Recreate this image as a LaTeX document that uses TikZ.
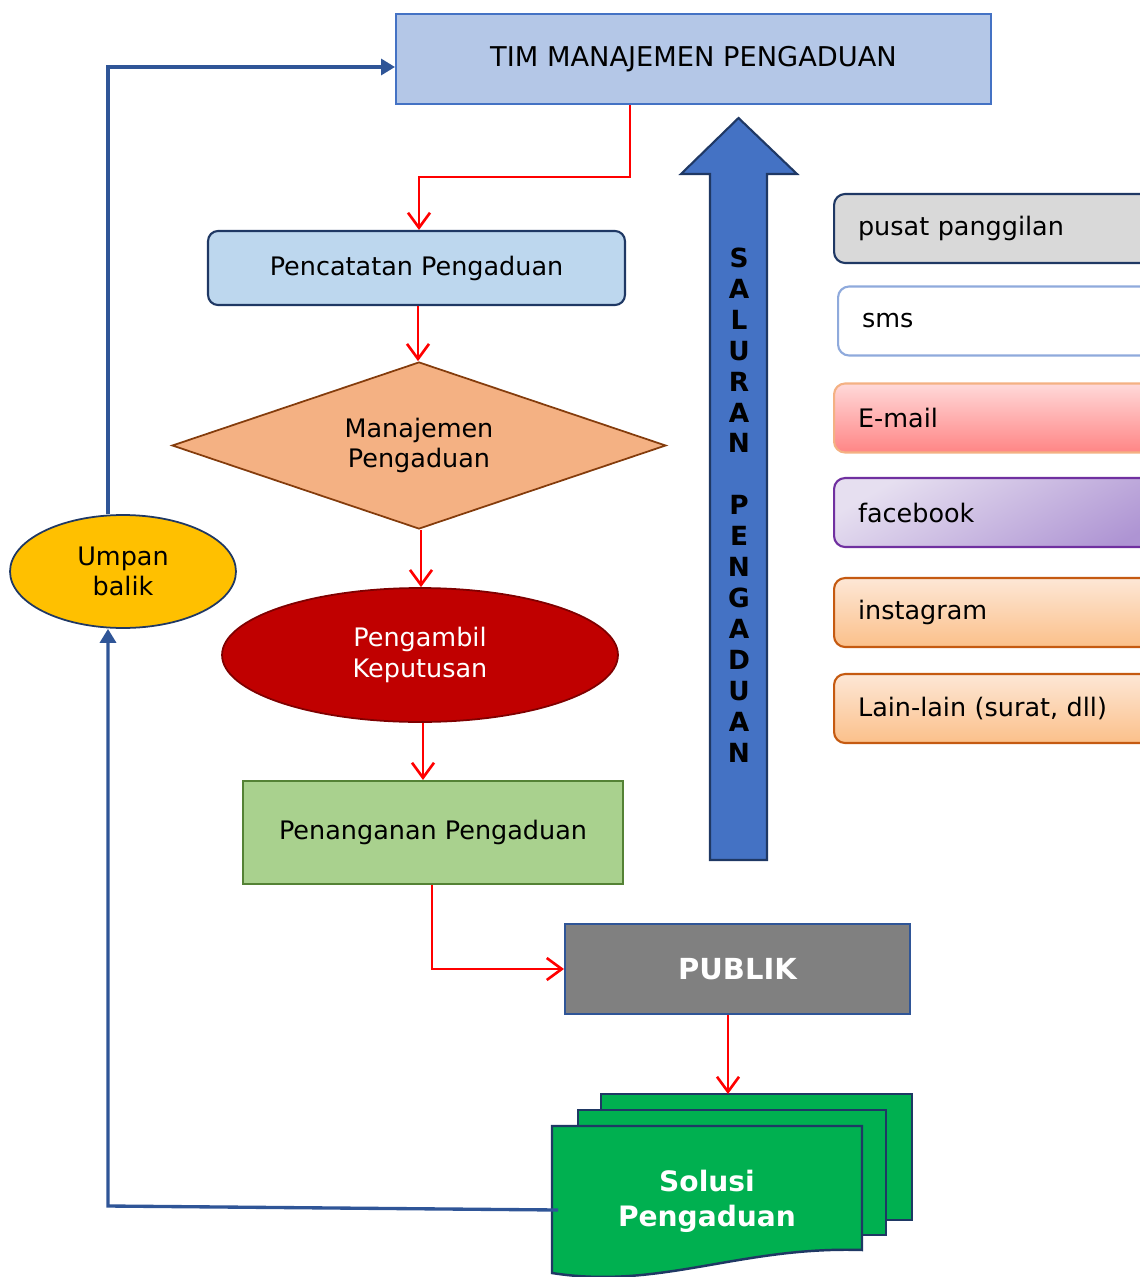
\documentclass[tikz,border=0pt]{standalone}
\usepackage{fontspec}
\setmainfont{DejaVu Sans}
\usetikzlibrary{arrows.meta,shapes.geometric}

\definecolor{timfill}{HTML}{B4C7E7}
\definecolor{timdraw}{HTML}{4472C4}
\definecolor{navy}{HTML}{1F3864}
\definecolor{catatfill}{HTML}{BDD7EE}
\definecolor{manajfill}{HTML}{F4B183}
\definecolor{manajdraw}{HTML}{843C0C}
\definecolor{ambilfill}{HTML}{C00000}
\definecolor{ambildraw}{HTML}{7F0000}
\definecolor{tanganfill}{HTML}{A9D18E}
\definecolor{tangandraw}{HTML}{548235}
\definecolor{publikdraw}{HTML}{2F5597}
\definecolor{solusifill}{HTML}{00B050}
\definecolor{umpanfill}{HTML}{FFC000}
\definecolor{blueline}{HTML}{2F5597}
\definecolor{smsdraw}{HTML}{8FAADC}
\definecolor{pusatfill}{HTML}{D9D9D9}
\definecolor{mailtop}{HTML}{FFD9D9}
\definecolor{mailbot}{HTML}{FF8585}
\definecolor{fbtop}{HTML}{E6DFF0}
\definecolor{fbbot}{HTML}{AE94D3}
\definecolor{fbdraw}{HTML}{7030A0}
\definecolor{igtop}{HTML}{FDE7D6}
\definecolor{igbot}{HTML}{FBC08A}
\definecolor{igdraw}{HTML}{C55A11}

\begin{document}
\begin{tikzpicture}[x = 0.02cm, y = -0.02cm,
  every node/.style = {font = \fontsize{14.5}{17.5}\selectfont},
  flow/.style = {draw = red, line width = 1.5pt, -{Straight Barb[length = 3mm, width = 4.4mm]}},
  back/.style = {draw = blueline, line width = 1.9pt, -{Triangle[length = 2.8mm, width = 3.2mm]}},
  channel/.style = {rounded corners = 0.22cm, line width = 1.2pt, minimum height = 1.38cm, text width = 5.9cm, align = left, inner xsep = 0.48cm, anchor = west}]
\useasboundingbox (0,0) rectangle (1139,1277);

% main flow
\node[draw = timdraw, fill = timfill, line width = 1.2pt, minimum width = 11.9cm, minimum height = 1.8cm, font = \fontsize{15.5}{18}\selectfont] (tim) at (693.5,59) {TIM MANAJEMEN PENGADUAN};
\node[draw = navy, fill = catatfill, rounded corners = 0.2cm, line width = 1.2pt, minimum width = 8.34cm, minimum height = 1.48cm] (catat) at (416.5,268) {Pencatatan Pengaduan};
\node[diamond, draw = manajdraw, fill = manajfill, line width = 1pt, aspect = 2.96, inner sep = 0pt, minimum width = 9.88cm, minimum height = 3.34cm, align = center] (manaj) at (419,445.5) {Manajemen\\Pengaduan};
\node[ellipse, draw = ambildraw, fill = ambilfill, text = white, line width = 1pt, minimum width = 7.92cm, minimum height = 2.68cm, align = center] (ambil) at (420,655) {Pengambil\\Keputusan};
\node[draw = tangandraw, fill = tanganfill, line width = 1.2pt, minimum width = 7.6cm, minimum height = 2.06cm] (tangan) at (433,832.5) {Penanganan Pengaduan};
\node[draw = publikdraw, fill = gray, text = white, line width = 1.2pt, minimum width = 6.9cm, minimum height = 1.8cm, font = \fontsize{16.5}{19}\bfseries] (publik) at (737.5,969) {PUBLIK};

% stacked documents
\filldraw[fill = solusifill, draw = navy, line width = 1.4pt] (601,1094) rectangle (912,1220);
\filldraw[fill = solusifill, draw = navy, line width = 1.4pt] (578,1110) rectangle (886,1235);
\filldraw[fill = solusifill, draw = navy, line width = 1.4pt] (552,1126) -- (862,1126) -- (862,1250) .. controls (740,1246) and (660,1290) .. (552,1273) -- cycle;
\node[text = white, align = center, font = \fontsize{16}{20}\bfseries] (solusi) at (707,1201) {Solusi\\Pengaduan};
\coordinate (dtop) at (728,1094);
\coordinate (dleft) at (558,1210);

\node[ellipse, draw = navy, fill = umpanfill, line width = 1pt, minimum width = 4.52cm, minimum height = 2.26cm, align = center] (umpan) at (123,571.5) {Umpan\\balik};

% channel arrow
\filldraw[fill = timdraw, draw = navy, line width = 1.2pt] (710,860) -- (710,174) -- (681,174) -- (738.5,118) -- (797,174) -- (767,174) -- (767,860) -- cycle;
\node[align = center, font = \fontsize{15}{17.6}\bfseries] (saluran) at (739,505) {S\\A\\L\\U\\R\\A\\N\\[17.6pt]P\\E\\N\\G\\A\\D\\U\\A\\N};

% channels
\node[channel, draw = navy, fill = pusatfill] (pusat) at (833,228.5) {pusat panggilan};
\node[channel, draw = smsdraw, fill = white] (sms) at (837,321) {sms};
\node[channel, draw = manajfill, top color = mailtop, bottom color = mailbot] (mail) at (833,418) {E-mail};
\node[channel, draw = fbdraw, top color = fbtop, bottom color = fbbot, shading angle = 30] (fb) at (833,512.5) {facebook};
\node[channel, draw = igdraw, top color = igtop, bottom color = igbot] (ig) at (833,612.5) {instagram};
\node[channel, draw = igdraw, top color = igtop, bottom color = igbot] (lain) at (833,708.5) {Lain-lain (surat, dll)};

% connectors
\draw[flow] (tim.south -| 630,0) -- (630,177) -| (catat.north -| 419,0);
\draw[flow] (catat.south -| 418,0) -- (manaj.north -| 418,0);
\draw[flow] (manaj.south -| 421,0) -- (ambil.north -| 421,0);
\draw[flow] (ambil.south -| 423,0) -- (tangan.north -| 423,0);
\draw[flow] (tangan.south -| 432,0) |- (publik.west);
\draw[flow] (publik.south -| dtop) -- (dtop);
\draw[back] (dleft) -- (108,1206) -- (umpan.south -| 108,0);
\draw[back] (umpan.north -| 108,0) -- (108,67) -- (tim.west |- 0,67);
\end{tikzpicture}
\end{document}
